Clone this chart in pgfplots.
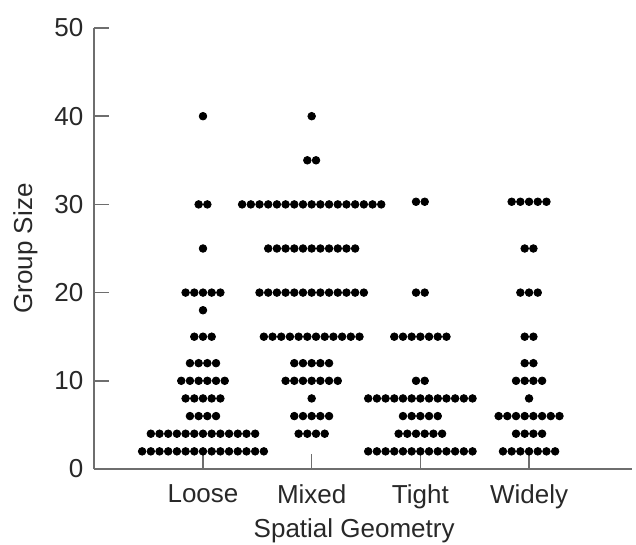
\documentclass[border=0pt]{standalone}
\usepackage{fontspec}
\setmainfont{Liberation Sans}
\usepackage{pgfplots}
\pgfplotsset{compat=1.18}
\definecolor{axgray}{RGB}{110,110,110}
\definecolor{txt}{RGB}{40,40,40}
\begin{document}
\begin{tikzpicture}
\begin{axis}[
  scale only axis,
  width=269pt, height=220.5pt,
  xmin=0, xmax=4.95, ymin=0, ymax=50,
  axis x line*=bottom, axis y line*=left,
  axis line style={-, draw=axgray, line width=0.8pt},
  tick style={draw=axgray, line width=0.8pt},
  tick align=inside, major tick length=7.5pt,
  xtick={1,2,3,4}, xticklabels={Loose,Mixed,Tight,Widely},
  ytick={0,10,20,30,40,50},
  /pgf/number format/assume math mode=true,
  tick label style={font=\fontsize{13}{15}\selectfont, text=txt},
  xticklabel style={yshift=-4.5pt},
  yticklabel style={xshift=-2pt},
  label style={font=\fontsize{13}{15}\selectfont, text=txt},
  xlabel={Spatial Geometry}, ylabel={Group Size},
  xlabel style={at={(axis description cs:0.483,-0.141)}, anchor=center},
  ylabel style={at={(axis description cs:-0.128,0.5)}, anchor=center},
  clip=false,
]
\addplot[only marks, mark=*, mark size=1.9pt, color=black] coordinates {
% Loose
(1,40)
(0.96,30)(1.04,30)
(1,25)
(0.84,20)(0.92,20)(1,20)(1.08,20)(1.16,20)
(1,18)
(0.92,15)(1,15)(1.08,15)
(0.88,12)(0.96,12)(1.04,12)(1.12,12)
(0.80,10)(0.88,10)(0.96,10)(1.04,10)(1.12,10)(1.20,10)
(0.84,8)(0.92,8)(1,8)(1.08,8)(1.16,8)
(0.88,6)(0.96,6)(1.04,6)(1.12,6)
(0.52,4)(0.60,4)(0.68,4)(0.76,4)(0.84,4)(0.92,4)(1.00,4)(1.08,4)(1.16,4)(1.24,4)(1.32,4)(1.40,4)(1.48,4)
(0.44,2)(0.52,2)(0.60,2)(0.68,2)(0.76,2)(0.84,2)(0.92,2)(1.00,2)(1.08,2)(1.16,2)(1.24,2)(1.32,2)(1.40,2)(1.48,2)(1.56,2)
% Mixed
(2,40)
(1.96,35)(2.04,35)
(1.36,30)(1.44,30)(1.52,30)(1.60,30)(1.68,30)(1.76,30)(1.84,30)(1.92,30)(2.00,30)(2.08,30)(2.16,30)(2.24,30)(2.32,30)(2.40,30)(2.48,30)(2.56,30)(2.64,30)
(1.60,25)(1.68,25)(1.76,25)(1.84,25)(1.92,25)(2.00,25)(2.08,25)(2.16,25)(2.24,25)(2.32,25)(2.40,25)
(1.52,20)(1.60,20)(1.68,20)(1.76,20)(1.84,20)(1.92,20)(2.00,20)(2.08,20)(2.16,20)(2.24,20)(2.32,20)(2.40,20)(2.48,20)
(1.56,15)(1.64,15)(1.72,15)(1.80,15)(1.88,15)(1.96,15)(2.04,15)(2.12,15)(2.20,15)(2.28,15)(2.36,15)(2.44,15)
(1.84,12)(1.92,12)(2,12)(2.08,12)(2.16,12)
(1.76,10)(1.84,10)(1.92,10)(2,10)(2.08,10)(2.16,10)(2.24,10)
(2,8)
(1.84,6)(1.92,6)(2,6)(2.08,6)(2.16,6)
(1.88,4)(1.96,4)(2.04,4)(2.12,4)
% Tight
(2.96,30.3)(3.04,30.3)
(2.96,20)(3.04,20)
(2.76,15)(2.84,15)(2.92,15)(3,15)(3.08,15)(3.16,15)(3.24,15)
(2.96,10)(3.04,10)
(2.52,8)(2.60,8)(2.68,8)(2.76,8)(2.84,8)(2.92,8)(3.00,8)(3.08,8)(3.16,8)(3.24,8)(3.32,8)(3.40,8)(3.48,8)
(2.84,6)(2.92,6)(3,6)(3.08,6)(3.16,6)
(2.80,4)(2.88,4)(2.96,4)(3.04,4)(3.12,4)(3.20,4)
(2.52,2)(2.60,2)(2.68,2)(2.76,2)(2.84,2)(2.92,2)(3.00,2)(3.08,2)(3.16,2)(3.24,2)(3.32,2)(3.40,2)(3.48,2)
% Widely
(3.84,30.3)(3.92,30.3)(4,30.3)(4.08,30.3)(4.16,30.3)
(3.96,25)(4.04,25)
(3.92,20)(4,20)(4.08,20)
(3.96,15)(4.04,15)
(3.96,12)(4.04,12)
(3.88,10)(3.96,10)(4.04,10)(4.12,10)
(4,8)
(3.72,6)(3.80,6)(3.88,6)(3.96,6)(4.04,6)(4.12,6)(4.20,6)(4.28,6)
(3.88,4)(3.96,4)(4.04,4)(4.12,4)
(3.76,2)(3.84,2)(3.92,2)(4,2)(4.08,2)(4.16,2)(4.24,2)
};
\end{axis}
\pgfresetboundingbox
\useasboundingbox (-47.15pt,-38pt) rectangle (270.85pt,234.5pt);
\end{tikzpicture}
\end{document}
